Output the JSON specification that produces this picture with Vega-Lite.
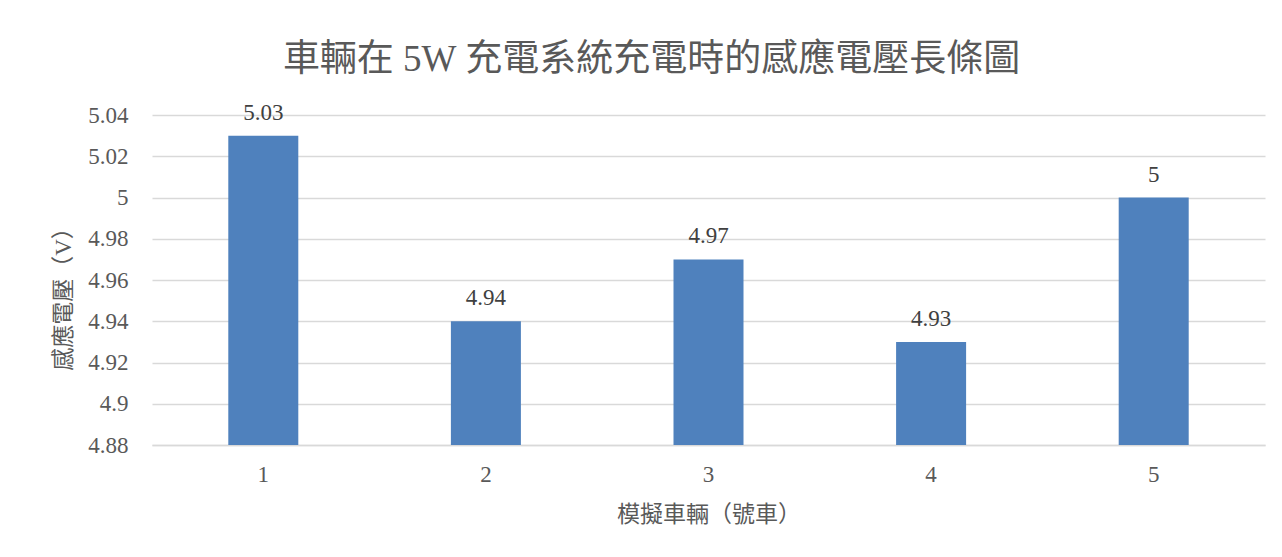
{
  "$schema": "https://vega.github.io/schema/vega-lite/v6.json",
  "autosize": {"type": "none"},
  "width": 1113,
  "height": 330,
  "padding": {"left": 152, "top": 115, "right": 17, "bottom": 112},
  "background": "white",
  "title": {
    "text": "車輛在 5W 充電系統充電時的感應電壓長條圖",
    "font": "Liberation Serif, Noto Sans CJK TC",
    "fontSize": 37,
    "fontWeight": "normal",
    "color": "#595959",
    "anchor": "middle",
    "dx": -57,
    "offset": 23
  },
  "data": {
    "values": [
      {"car": "1", "voltage": 5.03},
      {"car": "2", "voltage": 4.94},
      {"car": "3", "voltage": 4.97},
      {"car": "4", "voltage": 4.93},
      {"car": "5", "voltage": 5.0}
    ]
  },
  "config": {
    "view": {"stroke": null},
    "font": "Liberation Serif, Noto Sans CJK TC"
  },
  "encoding": {
    "x": {
      "field": "car",
      "type": "ordinal",
      "scale": {"paddingInner": 0.6855, "paddingOuter": 0.34275},
      "axis": {
        "title": "模擬車輛（號車）",
        "labelAngle": 0,
        "labelFont": "Liberation Serif, Noto Sans CJK TC",
        "labelFontSize": 23,
        "labelColor": "#595959",
        "labelPadding": 18,
        "ticks": false,
        "domainColor": "#D9D9D9",
        "domainWidth": 1.5,
        "titleFont": "Liberation Serif, Noto Sans CJK TC",
        "titleFontSize": 23,
        "titleFontWeight": "normal",
        "titleColor": "#595959",
        "titlePadding": 17
      }
    },
    "y": {
      "field": "voltage",
      "type": "quantitative",
      "scale": {"domain": [4.88, 5.04], "zero": false, "nice": false},
      "axis": {
        "title": "感應電壓（V）",
        "values": [4.88, 4.9, 4.92, 4.94, 4.96, 4.98, 5.0, 5.02, 5.04],
        "format": "~g",
        "labelFont": "Liberation Serif, Noto Sans CJK TC",
        "labelFontSize": 23,
        "labelColor": "#595959",
        "labelPadding": 24,
        "ticks": false,
        "domain": false,
        "grid": true,
        "gridColor": "#D9D9D9",
        "gridWidth": 1.5,
        "titleFont": "Liberation Serif, Noto Sans CJK TC",
        "titleFontSize": 23,
        "titleFontWeight": "normal",
        "titleColor": "#595959",
        "titlePadding": 12,
        "titleY": 178
      }
    }
  },
  "layer": [
    {
      "mark": {"type": "bar", "color": "#4F81BD", "clip": true}
    },
    {
      "mark": {
        "type": "text",
        "baseline": "alphabetic",
        "dy": -16,
        "fontSize": 23,
        "color": "#404040",
        "font": "Liberation Serif, Noto Sans CJK TC"
      },
      "encoding": {
        "text": {"field": "voltage", "type": "quantitative", "format": "~g"}
      }
    }
  ]
}
